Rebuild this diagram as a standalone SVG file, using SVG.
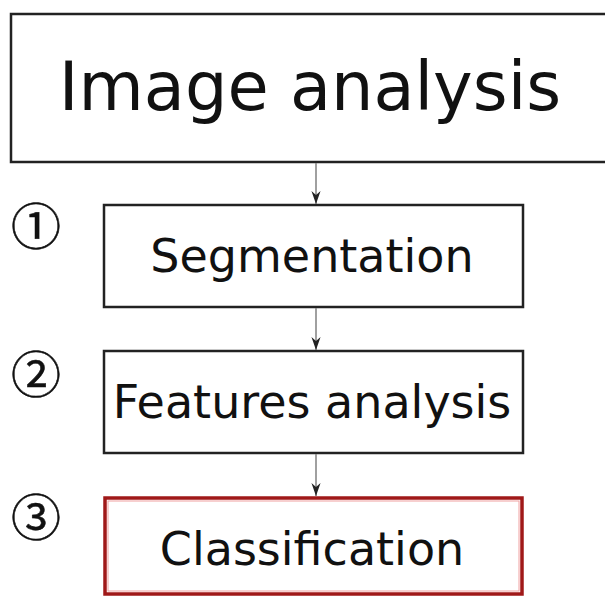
<svg xmlns="http://www.w3.org/2000/svg" width="605" height="596" viewBox="0 0 605 596">
  <defs>
    <marker id="arrow" viewBox="0 0 10 10" refX="10" refY="5" markerWidth="13" markerHeight="13" markerUnits="userSpaceOnUse" orient="auto">
      <path d="M0,1.5 L10,5 L0,8.5 L3,5 Z" fill="#222"/>
    </marker>
  </defs>
  <style>
    .box { fill: #fff; stroke: #222; stroke-width: 2.5; }
    .red { stroke: #a01818; stroke-width: 3.5; }
    .halo { fill: none; stroke: #f0a0a0; stroke-width: 1; }
    .lbl { font-family: "DejaVu Sans", Verdana, sans-serif; fill: #111; text-anchor: middle; }
    .num { font-family: "Noto Sans CJK JP", "DejaVu Sans", sans-serif; fill: #111; stroke: #111; stroke-width: 0.5; text-anchor: middle; font-size: 50px; }
    .edge { stroke: #808080; stroke-width: 1.5; fill: none; marker-end: url(#arrow); }
  </style>
  <rect width="605" height="596" fill="#fff"/>

  <g id="image-analysis">
    <rect class="box" x="11" y="14" width="600" height="148"/>
    <text class="lbl" x="310" y="110" font-size="67">Image analysis</text>
  </g>

  <g id="segmentation">
    <rect class="box" x="104" y="205" width="419" height="102"/>
    <text class="lbl" x="312" y="272" font-size="46">Segmentation</text>
    <text class="num" x="36" y="245">①</text>
  </g>

  <g id="features-analysis">
    <rect class="box" x="104" y="351" width="419" height="102"/>
    <text class="lbl" x="312" y="418" font-size="46">Features analysis</text>
    <text class="num" x="36" y="393">②</text>
  </g>

  <g id="classification">
    <rect class="box red" x="105" y="498" width="417" height="96"/>
    <rect class="halo" x="108" y="501" width="411" height="90"/>
    <text class="lbl" x="312" y="565" font-size="46">Classification</text>
    <text class="num" x="36" y="536">③</text>
  </g>

  <g id="connectors">
    <line class="edge" x1="316" y1="163" x2="316" y2="204"/>
    <line class="edge" x1="316" y1="308" x2="316" y2="350"/>
    <line class="edge" x1="316" y1="454" x2="316" y2="496"/>
  </g>
</svg>
